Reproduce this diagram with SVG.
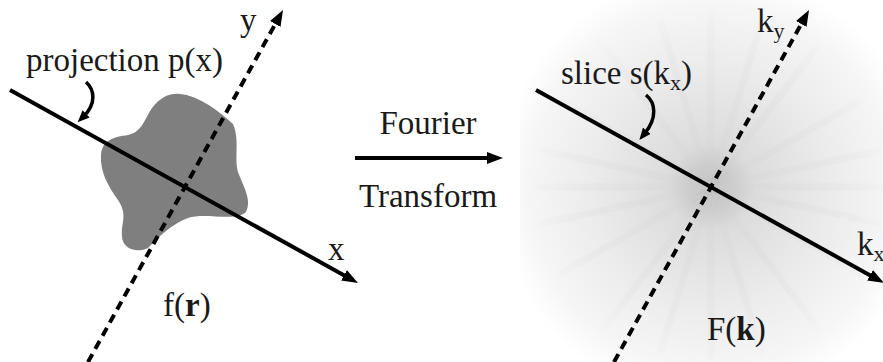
<svg xmlns="http://www.w3.org/2000/svg" width="883" height="362" viewBox="0 0 883 362">
<style>
text{font-family:"Liberation Serif","DejaVu Serif","Times New Roman",serif;font-size:33px;fill:#1a1a1a}
.sub{font-size:22px}
.ax{stroke:#000;stroke-width:4;fill:none}
.dash{stroke-dasharray:9 6}
.curl{stroke:#000;stroke-width:3.5;fill:none}
.streak{stroke:#d4d4d4;stroke-width:7;stroke-opacity:0.25}
</style>
<defs>
<marker id="ah" viewBox="0 0 16 12" refX="4" refY="6" markerWidth="16" markerHeight="12" markerUnits="userSpaceOnUse" orient="auto">
<path d="M0,0 L16,6 L0,12 z" fill="#000"/>
</marker>
<marker id="ahs" viewBox="0 0 12 10" refX="3" refY="5" markerWidth="12" markerHeight="10" markerUnits="userSpaceOnUse" orient="auto">
<path d="M0,0 L12,5 L0,10 z" fill="#000"/>
</marker>
<radialGradient id="g1" cx="711" cy="187" r="215" gradientUnits="userSpaceOnUse">
<stop offset="0" stop-color="#8a8a8a"/>
<stop offset="0.05" stop-color="#c2c2c2"/>
<stop offset="0.2" stop-color="#dcdcdc"/>
<stop offset="0.55" stop-color="#ebebeb"/>
<stop offset="0.85" stop-color="#f6f6f6"/>
<stop offset="1" stop-color="#ffffff"/>
</radialGradient>
<radialGradient id="fade" cx="711" cy="187" r="190" gradientUnits="userSpaceOnUse">
<stop offset="0" stop-color="#fff" stop-opacity="1"/>
<stop offset="0.7" stop-color="#fff" stop-opacity="0.6"/>
<stop offset="1" stop-color="#fff" stop-opacity="0"/>
</radialGradient>
<mask id="m1">
<rect x="520" y="0" width="363" height="362" fill="url(#fade)"/>
</mask>
</defs>
<rect width="883" height="362" fill="#fff"/>

<g id="fourier-background">
<rect x="520" y="0" width="363" height="362" fill="url(#g1)"/>
<g mask="url(#m1)">
<line class="streak" x1="530" y1="187" x2="883" y2="187"/>
<line class="streak" x1="540" y1="150" x2="883" y2="224"/>
<line class="streak" x1="540" y1="224" x2="883" y2="150"/>
<line class="streak" x1="560" y1="100" x2="862" y2="274"/>
<line class="streak" x1="560" y1="274" x2="862" y2="100"/>
<line class="streak" x1="600" y1="40" x2="822" y2="334"/>
<line class="streak" x1="600" y1="334" x2="822" y2="40"/>
<line class="streak" x1="660" y1="20" x2="762" y2="354"/>
<line class="streak" x1="660" y1="354" x2="762" y2="20"/>
<line class="streak" x1="711" y1="10" x2="711" y2="360"/>
</g>
</g>

<g id="object-blob">
<path d="M180,94 C200,96 220,112 233,124 C240,140 234,158 238,172 C244,188 252,200 246,212 C236,222 205,212 188,218 C170,225 160,236 148,248 C136,254 122,248 122,236 C121,222 128,215 118,200 C108,186 100,172 101,155 C102,140 114,137 128,135 C142,132 144,120 152,108 C160,98 168,93 180,94 z" fill="#7f7f7f"/>
</g>

<g id="connectors">
<line class="ax" x1="10" y1="90" x2="347.5" y2="277.2" marker-end="url(#ah)"/>
<line class="ax dash" x1="88" y1="362" x2="277.2" y2="20.5" marker-end="url(#ah)"/>
<path class="curl" d="M86,82 C95,90 96,104 84,116" marker-end="url(#ahs)"/>
<line class="ax" x1="355" y1="158" x2="491" y2="158" marker-end="url(#ah)"/>
<line class="ax" x1="536" y1="90" x2="873.5" y2="277.2" marker-end="url(#ah)"/>
<line class="ax dash" x1="614" y1="362" x2="803.2" y2="20.5" marker-end="url(#ah)"/>
<path class="curl" d="M646,95 C656,103 657,118 645,133" marker-end="url(#ahs)"/>
</g>

<g id="labels-left">
<text x="26" y="71">projection p(x)</text>
<text x="240" y="31">y</text>
<text x="328" y="260">x</text>
<text x="163" y="316">f(<tspan font-weight="bold">r</tspan>)</text>
</g>

<g id="labels-middle">
<text x="428" y="134" text-anchor="middle">Fourier</text>
<text x="428" y="207" text-anchor="middle">Transform</text>
</g>

<g id="labels-right">
<text x="561" y="84">slice s(k<tspan class="sub" dy="6">x</tspan><tspan dy="-6">)</tspan></text>
<text x="757" y="32">k<tspan class="sub" dy="6">y</tspan></text>
<text x="857" y="255">k<tspan class="sub" dy="6">x</tspan></text>
<text x="707" y="340">F(<tspan font-weight="bold">k</tspan>)</text>
</g>
</svg>
